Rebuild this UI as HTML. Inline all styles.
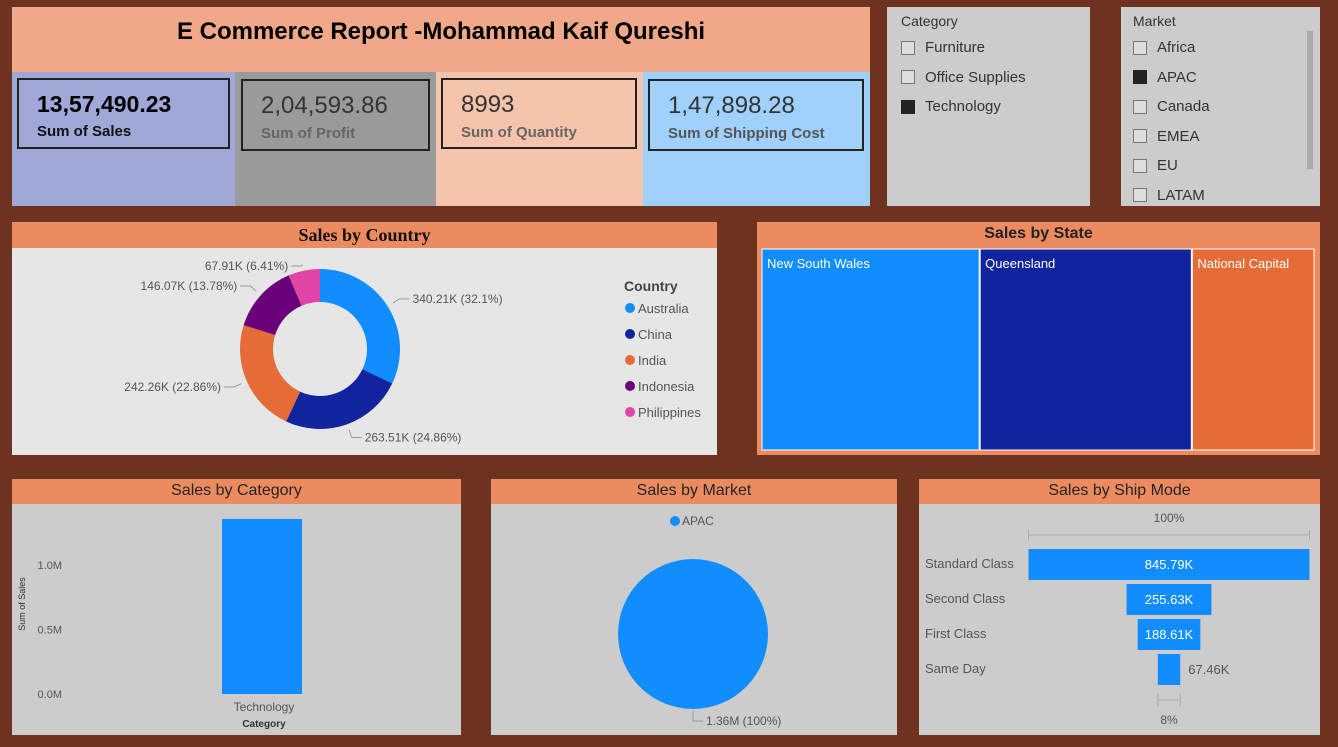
<!DOCTYPE html>
<html><head><meta charset="utf-8"><style>
*{box-sizing:border-box;margin:0;padding:0}
body{width:1338px;height:747px;background:#6e3320;position:relative;overflow:hidden;font-family:"Liberation Sans",sans-serif}
.a{position:absolute}
.hdr{position:absolute;left:0;right:0;top:0;background:#ec8a60;text-align:center;color:#252423;font-size:16px}
.kbox{position:absolute;border:2px solid #222;padding:0 0 0 18px}
.kv{font-size:24px;margin-top:11px}
.kl{font-size:15px;font-weight:bold;margin-top:5px}
.chk{display:flex;align-items:center;font-size:15px;color:#333;height:29.5px}
.chk span{display:inline-block;width:14px;height:14px;border:1px solid #777;margin-right:10px;background:#ddd}
</style></head><body>
<div class="a" style="left:12px;top:7px;width:858px;height:65px;background:#f0a888;text-align:center;font-size:24px;font-weight:bold;line-height:50px">E Commerce Report -Mohammad Kaif Qureshi</div>

<div class="a" style="left:12px;top:72px;width:223px;height:134px;background:#a0a8d8">
 <div class="kbox" style="left:5px;top:6px;width:213px;height:71px"><div class="kv" style="font-weight:bold;font-size:23px">13,57,490.23</div><div class="kl" style="color:#111">Sum of Sales</div></div></div>
<div class="a" style="left:235px;top:72px;width:201px;height:134px;background:#9a9a9a">
 <div class="kbox" style="left:6px;top:7px;width:189px;height:72px"><div class="kv" style="color:#333">2,04,593.86</div><div class="kl" style="color:#666">Sum of Profit</div></div></div>
<div class="a" style="left:436px;top:72px;width:207px;height:134px;background:#f4c4ac">
 <div class="kbox" style="left:5px;top:6px;width:196px;height:71px"><div class="kv" style="color:#333">8993</div><div class="kl" style="color:#666">Sum of Quantity</div></div></div>
<div class="a" style="left:643px;top:72px;width:227px;height:134px;background:#a0d0fc">
 <div class="kbox" style="left:5px;top:7px;width:216px;height:72px"><div class="kv" style="color:#333">1,47,898.28</div><div class="kl" style="color:#555">Sum of Shipping Cost</div></div></div>

<div class="a" style="left:887px;top:7px;width:203px;height:199px;background:#cccccc;padding:6px 14px">
 <div style="font-size:14px;color:#333;margin-bottom:4px">Category</div>
 <div class="chk"><span></span>Furniture</div>
 <div class="chk"><span></span>Office Supplies</div>
 <div class="chk"><span style="background:#222;border-color:#222"></span>Technology</div>
</div>
<div class="a" style="left:1121px;top:7px;width:199px;height:199px;background:#cccccc;padding:6px 12px;overflow:hidden">
 <div style="font-size:14px;color:#333;margin-bottom:4px">Market</div>
 <div class="chk"><span></span>Africa</div>
 <div class="chk"><span style="background:#222;border-color:#222"></span>APAC</div>
 <div class="chk"><span></span>Canada</div>
 <div class="chk"><span></span>EMEA</div>
 <div class="chk"><span></span>EU</div>
 <div class="chk"><span></span>LATAM</div>
 <div class="a" style="left:186px;top:24px;width:6px;height:138px;background:#aaa"></div>
</div>

<div class="a" style="left:12px;top:222px;width:705px;height:233px;background:#e6e6e6">
 <div class="hdr" style="height:26px;line-height:26px;font-family:'Liberation Serif',serif;font-weight:bold;font-size:18px;color:#111">Sales by Country</div>
 <svg id="donut" class="a" style="left:0;top:0" width="705" height="233"></svg>
</div>

<div class="a" style="left:757px;top:222px;width:563px;height:233px;background:#ec8a60">
 <div class="hdr" style="height:25px;line-height:24px;font-weight:bold;font-size:16px;color:#222">Sales by State</div>
 <svg id="tree" class="a" style="left:0;top:0" width="563" height="233"></svg>
</div>

<div class="a" style="left:12px;top:479px;width:449px;height:256px;background:#cccccc">
 <div class="hdr" style="height:25px;line-height:24px">Sales by Category</div>
 <svg id="bar" class="a" style="left:0;top:0" width="449" height="256"></svg>
</div>
<div class="a" style="left:491px;top:479px;width:406px;height:256px;background:#cccccc">
 <div class="hdr" style="height:25px;line-height:24px">Sales by Market</div>
 <svg id="pie" class="a" style="left:0;top:0" width="406" height="256"></svg>
</div>
<div class="a" style="left:919px;top:479px;width:401px;height:256px;background:#cccccc">
 <div class="hdr" style="height:25px;line-height:24px">Sales by Ship Mode</div>
 <svg id="funnel" class="a" style="left:0;top:0" width="401" height="256"></svg>
</div>

<script>
const countries=["Australia","China","India","Indonesia","Philippines"];
const countrySales=[340.21,263.51,242.26,146.07,67.91];
const countryLabels=["340.21K (32.1%)","263.51K (24.86%)","242.26K (22.86%)","146.07K (13.78%)","67.91K (6.41%)"];
const countryColors=["#118dff","#12239e","#e66c37","#6b007b","#e044a7"];
const states=["New South Wales","Queensland","National Capital"];
const stateSales=[217,211,122];
const stateColors=["#118dff","#12239e","#e66c37"];
const catNames=["Technology"];
const catSales=[1.357];
const yTicks=[0,0.5,1.0];
const marketNames=["APAC"];
const marketSales=[1.36];
const shipModes=["Standard Class","Second Class","First Class","Same Day"];
const shipSales=[845.79,255.63,188.61,67.46];
const NS="http://www.w3.org/2000/svg";
function mk(svg,tag,at,txt){const e=document.createElementNS(NS,tag);for(const k in at)e.setAttribute(k,at[k]);if(txt!==undefined)e.textContent=txt;svg.appendChild(e);return e;}

// donut
(function(){const s=document.getElementById('donut');const cx=308,cy=127,R=80,r=47;
const tot=countrySales.reduce((a,b)=>a+b,0);let a0=-Math.PI/2;
countrySales.forEach((v,i)=>{const a1=a0+v/tot*2*Math.PI;const lg=(a1-a0)>Math.PI?1:0;
const p=(rad,a)=>[cx+rad*Math.cos(a),cy+rad*Math.sin(a)];
const [x0,y0]=p(R,a0),[x1,y1]=p(R,a1),[x2,y2]=p(r,a1),[x3,y3]=p(r,a0);
const e=mk(s,'path',{d:`M${x0},${y0}A${R},${R} 0 ${lg} 1 ${x1},${y1}L${x2},${y2}A${r},${r} 0 ${lg} 0 ${x3},${y3}Z`,fill:countryColors[i]});


const am=(a0+a1)/2;const [lx,ly]=p(R+6,am);let [ex,ey]=p(R+14,am);if(ey<44)ey=44;const right=Math.cos(am)>=0;
const tx=ex+(right?10:-10);
mk(s,'polyline',{points:`${lx},${ly} ${ex},${ey} ${tx},${ey}`,fill:'none',stroke:'#999'});
const t=mk(s,'text',{x:tx+(right?3:-3),y:ey+4,'font-size':12,fill:'#555','text-anchor':right?'start':'end'},countryLabels[i]);


a0=a1;});
mk(s,'text',{x:612,y:69,'font-size':14,'font-weight':'bold',fill:'#444'},'Country');
countries.forEach((c,i)=>{const y=86+i*26;
const d=mk(s,'circle',{cx:618,cy:y,r:5,fill:countryColors[i]});


mk(s,'text',{x:626,y:y+5,'font-size':13,fill:'#555'},c);});})();

// treemap
(function(){const s=document.getElementById('tree');const x0=5,y0=27,W=553,H=201;
const tot=stateSales.reduce((a,b)=>a+b,0);let x=x0;
stateSales.forEach((v,i)=>{const w=v/tot*W;
const e=mk(s,'rect',{x:x,y:y0,width:w-1,height:H,fill:stateColors[i],stroke:'#fff','stroke-width':1});


mk(s,'text',{x:x+5,y:y0+19,'font-size':13,fill:'#fff'},states[i]);x+=w;});})();

// bar
(function(){const s=document.getElementById('bar');const base=215,scale=129;const Y=v=>base-v*scale;
yTicks.forEach(t=>mk(s,'text',{x:50,y:Y(t)+4,'font-size':11,fill:'#555','text-anchor':'end'},t.toFixed(1)+'M'));
mk(s,'text',{x:13,y:125,'font-size':9,fill:'#333','text-anchor':'middle',transform:'rotate(-90 13 125)'},'Sum of Sales');
catSales.forEach((v,i)=>{const cx=250+i*100;
const b=mk(s,'rect',{x:cx-40,y:Y(v),width:80,height:v*scale,fill:'#118dff'});


mk(s,'text',{x:cx+2,y:232,'font-size':12,fill:'#555','text-anchor':'middle'},catNames[i]);});
mk(s,'text',{x:252,y:248,'font-size':10,'font-weight':'bold',fill:'#333','text-anchor':'middle'},'Category');})();

// pie
(function(){const s=document.getElementById('pie');const cx=202,cy=155,R=75;
mk(s,'circle',{cx:184,cy:42,r:5,fill:'#118dff'});
mk(s,'text',{x:191,y:46,'font-size':12,fill:'#555'},marketNames[0]);
const tot=marketSales.reduce((a,b)=>a+b,0);
marketSales.forEach((v,i)=>{const c=mk(s,'circle',{cx:cx,cy:cy,r:R*Math.sqrt(v/tot),fill:'#118dff'});


mk(s,'polyline',{points:`${cx},${cy+R+2} ${cx},${cy+R+12} ${cx+10},${cy+R+12}`,fill:'none',stroke:'#999'});
mk(s,'text',{x:cx+13,y:cy+R+16,'font-size':12,fill:'#555'},v.toFixed(2)+'M (100%)');});})();

// funnel
(function(){const s=document.getElementById('funnel');const cx=250,W=281,max=shipSales[0];const w=v=>v/max*W;
mk(s,'text',{x:cx,y:43,'font-size':12,fill:'#555','text-anchor':'middle'},'100%');
mk(s,'path',{d:`M${cx-W/2},51V61M${cx-W/2},56H${cx+W/2}M${cx+W/2},51V61`,stroke:'#aaa',fill:'none'});
shipSales.forEach((v,i)=>{const y=70+i*35,bw=w(v);
const r=mk(s,'rect',{x:cx-bw/2,y:y,width:bw,height:31,fill:'#118dff'});


mk(s,'text',{x:6,y:y+19,'font-size':13,fill:'#555'},shipModes[i]);
const inside=bw>50;
mk(s,'text',{x:inside?cx:cx+bw/2+8,y:y+20,'font-size':13,fill:inside?'#fff':'#555','text-anchor':inside?'middle':'start'},v.toFixed(2)+'K');});
const lw=w(shipSales[shipSales.length-1]);
mk(s,'path',{d:`M${cx-lw/2},214V228M${cx-lw/2},221H${cx+lw/2}M${cx+lw/2},214V228`,stroke:'#aaa',fill:'none'});
mk(s,'text',{x:cx,y:245,'font-size':12,fill:'#555','text-anchor':'middle'},Math.round(shipSales[3]/max*100)+'%');})();
</script>
</body></html>
